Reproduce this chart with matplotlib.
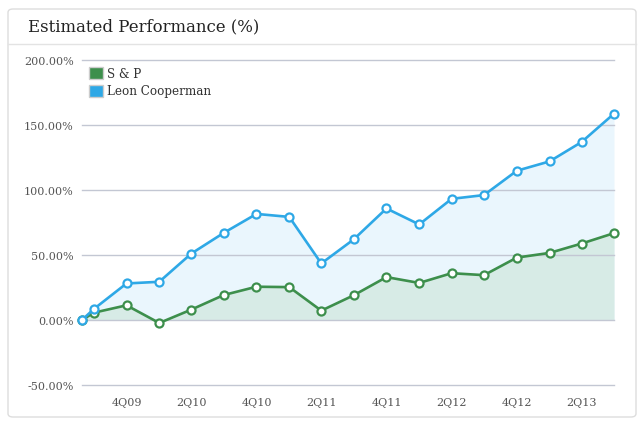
import matplotlib
matplotlib.use("Agg")
import matplotlib.pyplot as plt
from matplotlib.patches import FancyBboxPatch, Rectangle
from matplotlib.lines import Line2D
import pandas as pd

dates = ["2009-05-29", "2009-07-01", "2009-10-01", "2010-01-01", "2010-04-01",
         "2010-07-01", "2010-10-01", "2011-01-01", "2011-04-01", "2011-07-01",
         "2011-10-01", "2012-01-01", "2012-04-01", "2012-07-01", "2012-10-01",
         "2013-01-01", "2013-04-01", "2013-07-01"]
sp = [0, 5.6, 11.3, -2.3, 8.0, 19.2, 25.6, 25.3, 7.2, 19.0, 33.0, 28.5,
      36.0, 34.5, 48.0, 51.6, 58.8, 66.8]
leon = [0, 8.4, 28.1, 29.4, 51.1, 67.0, 81.6, 79.3, 43.5, 62.0, 85.8, 73.5,
        93.2, 96.1, 114.8, 122.0, 136.9, 158.7]
tick_dates = ["2009-10-01", "2010-04-01", "2010-10-01", "2011-04-01",
              "2011-10-01", "2012-04-01", "2012-10-01", "2013-04-01"]
tick_labels = ["4Q09", "2Q10", "4Q10", "2Q11", "4Q11", "2Q12", "4Q12", "2Q13"]
yticks = [-50, 0, 50, 100, 150, 200]
title = "Estimated Performance (%)"
series_names = ["S & P", "Leon Cooperman"]

GREEN = "#3d8f4c"
BLUE = "#2ea8e6"
GREEN_FILL = "#d7ebe6"
BLUE_FILL = "#eaf6fd"
SERIF = ["DejaVu Serif"]

x = pd.to_datetime(dates)
xt = pd.to_datetime(tick_dates)

W, H = 642, 427
fig = plt.figure(figsize=(W / 100, H / 100), dpi=100)
fig.patch.set_facecolor("white")

card = FancyBboxPatch((8 / W, 9 / H), 628 / W, 408 / H,
                      boxstyle="round,pad=0,rounding_size=0.008",
                      transform=fig.transFigure, facecolor="white",
                      edgecolor="#dddddd", linewidth=1.0, zorder=-5)
fig.patches.append(card)
fig.lines.append(Line2D([8 / W, 636 / W], [1 - 45 / H, 1 - 45 / H],
                        transform=fig.transFigure, color="#e3e3e3", lw=1.0,
                        zorder=-4))
fig.text(28 / W, 1 - 27 / H, title, family=SERIF, fontsize=11.9,
         color="#222222", va="center", ha="left")

ax = fig.add_axes([82 / W, 1 - 386 / H, 532 / W, 325 / H])
ax.set_facecolor("none")
ax.set_zorder(1)

ax.fill_between(x, leon, 0, color=BLUE_FILL, lw=0, zorder=1)
ax.fill_between(x, sp, 0, color=GREEN_FILL, lw=0, zorder=2)

ax.plot(x, sp, color=GREEN, lw=1.9, marker="o", ms=5.8, mfc="white",
        mec=GREEN, mew=1.6, zorder=5, clip_on=False)
ax.plot(x, leon, color=BLUE, lw=1.9, marker="o", ms=5.8, mfc="white",
        mec=BLUE, mew=1.6, zorder=6, clip_on=False)

ax.set_xlim(x[0], x[-1])
ax.set_ylim(-50, 200)
ax.set_yticks(yticks)
ax.set_yticklabels([f"{v:.2f}%" for v in yticks], family=SERIF,
                   fontsize=8, color="#555555")
ax.set_xticks(xt)
ax.set_xticklabels(tick_labels, family=SERIF, fontsize=8, color="#555555")
ax.tick_params(axis="both", length=0)
ax.tick_params(axis="y", pad=6)
ax.tick_params(axis="x", pad=9)
for v in yticks:
    ax.axhline(v, color="#c3c7d3", lw=1, zorder=3, clip_on=False)
for s in ax.spines.values():
    s.set_visible(False)

# legend
for j, (name, col) in enumerate(zip(series_names, [GREEN, BLUE])):
    yy = 1 - (74 + 18 * j) / H
    fig.patches.append(Rectangle((89 / W, yy - 6 / H), 14 / W, 12 / H,
                                 transform=fig.transFigure, facecolor=col,
                                 edgecolor="#cccccc", lw=1, zorder=5))
    fig.text(107 / W, yy, name, family=SERIF, fontsize=8.6,
             color="#333333", va="center", ha="left", zorder=5)

fig.savefig("out.png", dpi=100)
